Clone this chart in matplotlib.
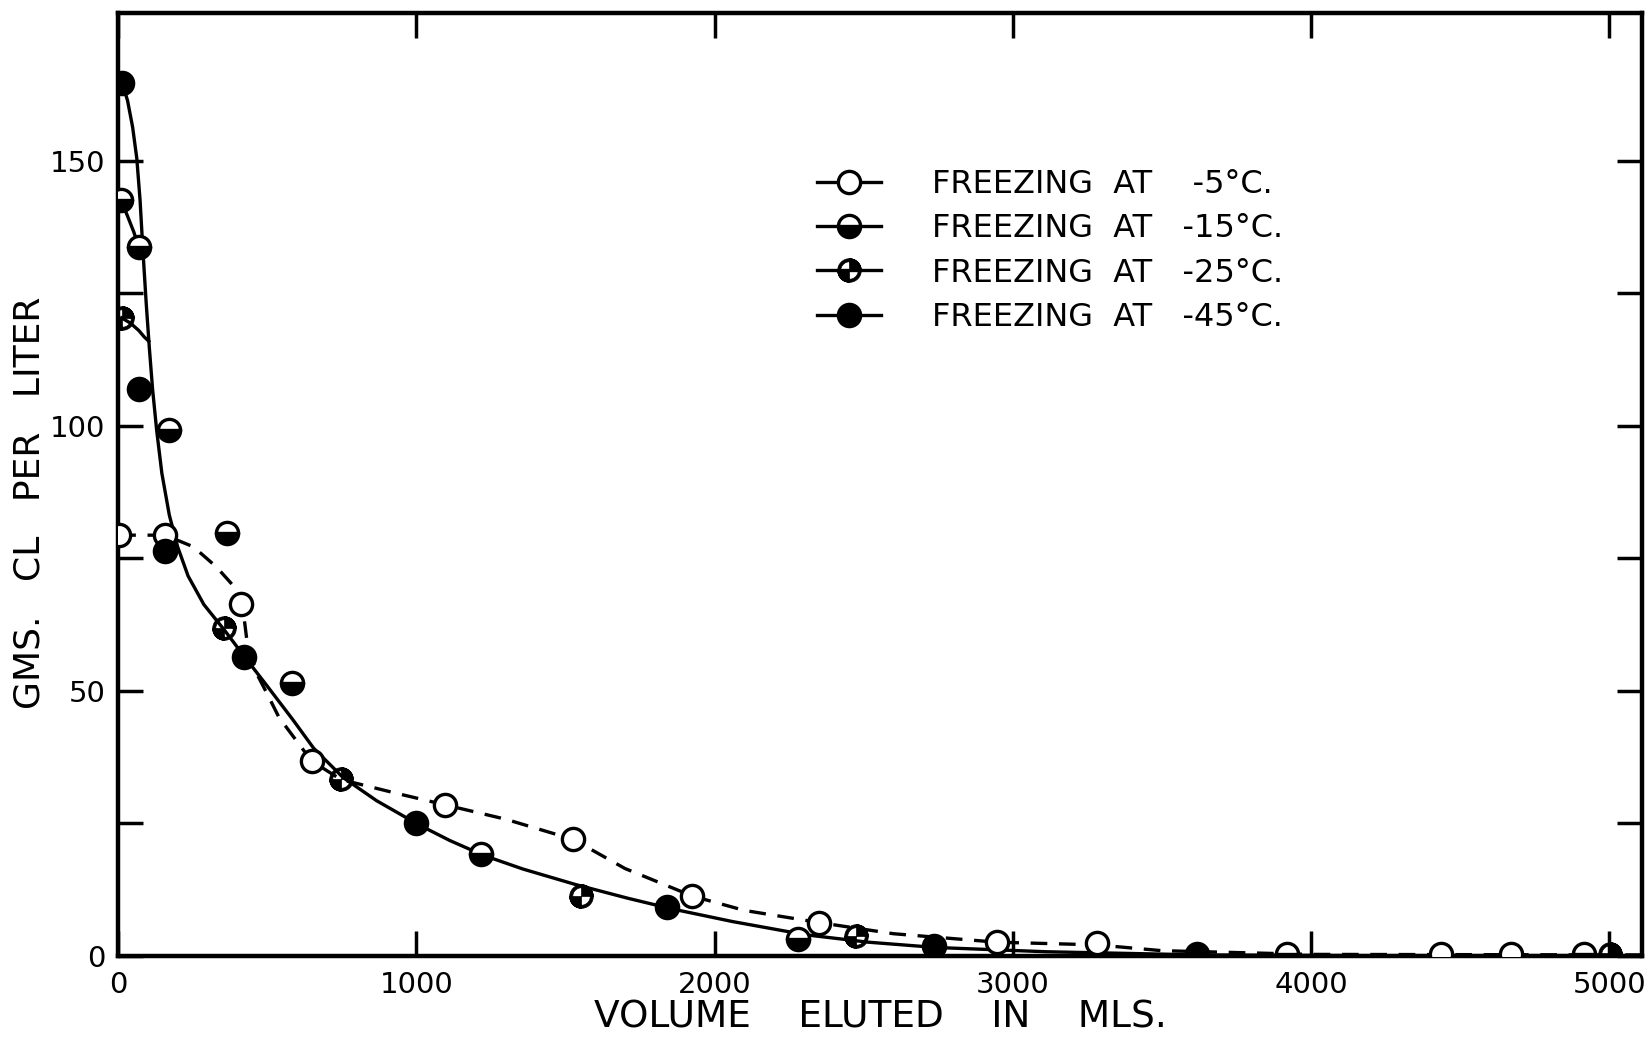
import numpy as np
import matplotlib
matplotlib.use("Agg")
import matplotlib.pyplot as plt
from matplotlib.path import Path
from matplotlib.lines import Line2D

x_5 = [4, 158, 414, 649, 1098, 1526, 1926, 2351, 2947, 3281, 4435, 4670]
y_5 = [79.4, 79.4, 66.5, 36.8, 28.5, 22.0, 11.3, 6.3, 2.6, 2.4, 0.3, 0.3]

x_15 = [10, 70, 172, 365, 582, 1218, 2281, 3920, 4916]
y_15 = [142.6, 133.7, 99.2, 79.8, 51.5, 19.2, 3.2, 0.3, 0.3]

x_25 = [12, 354, 747, 1551, 2474, 5004]
y_25 = [120.4, 61.8, 33.3, 11.3, 3.8, 0.4]

x_45 = [14, 72, 158, 421, 1000, 1842, 2737, 3617]
y_45 = [164.7, 106.9, 76.5, 56.4, 25.1, 9.3, 1.8, 0.4]

# hand drawn curves (traced along the lines of the original)
solid_x = [14, 32, 49, 63, 74, 84, 95, 105, 116, 130, 147, 172, 200, 235, 288, 358, 425,
           498, 586, 656, 754, 867, 1007, 1112, 1225, 1358, 1533, 1709, 1856, 2060, 2305,
           2516, 2744, 3112, 3632, 4165, 5110]
solid_y = [164.7, 161.4, 156.4, 150.5, 142.6, 132.7, 122.8, 114.8, 106.9, 99.0, 91.1, 83.2,
           77.2, 71.7, 66.3, 61.4, 56.4, 51.1, 44.6, 39.2, 33.7, 29.3, 24.8, 21.8, 19.0, 16.4,
           13.5, 10.9, 8.9, 6.5, 4.0, 2.6, 1.6, 0.8, 0.2, 0.08, 0.08]

branch1_x = [10, 32, 53, 70]
branch1_y = [142.6, 139.6, 136.6, 133.7]
branch2_x = [12, 42, 70, 88, 103]
branch2_y = [120.4, 119.4, 118.0, 116.8, 116.0]

dash_x = [4, 158, 253, 330, 386, 414, 425, 432, 463, 498, 540, 649, 747, 933, 1098,
          1300, 1526, 1700, 1926, 2100, 2351, 2600, 2947, 3281, 3500, 4000, 5110]
dash_y = [79.4, 79.4, 77.2, 73.4, 69.9, 66.5, 62.8, 59.6, 53.5, 49.7, 45, 36.8, 33.3, 30.7, 28.5,
          25.8, 22.0, 16.5, 11.3, 8.6, 6.3, 4.2, 2.6, 2.1, 1.0, 0.3, 0.2]

legend_labels = ["FREEZING  AT    -5\u00b0C.", "FREEZING  AT   -15\u00b0C.",
                 "FREEZING  AT   -25\u00b0C.", "FREEZING  AT   -45\u00b0C."]


def quarter_marker():
    # ring + two filled quarters
    t = np.linspace(0, 2 * np.pi, 65)
    outer = np.column_stack([np.cos(t), np.sin(t)])
    inner = outer[::-1] * 0.74
    verts, codes = [], []
    for poly in (outer, inner):
        verts += list(poly)
        codes += [Path.MOVETO] + [Path.LINETO] * (len(poly) - 2) + [Path.CLOSEPOLY]
    for a0 in (0, np.pi):
        a = np.linspace(a0, a0 + np.pi / 2, 17)
        poly = np.vstack([[0, 0], np.column_stack([np.cos(a), np.sin(a)]), [0, 0]])
        verts += list(poly)
        codes += [Path.MOVETO] + [Path.LINETO] * (len(poly) - 2) + [Path.CLOSEPOLY]
    return Path(np.array(verts), codes)


qmark = quarter_marker()

plt.rcParams['font.family'] = ['DejaVu Sans']

fig = plt.figure(figsize=(16.48, 10.39), dpi=100)
ax = fig.add_axes([0.0716, 0.0799, 0.9248, 0.908])

lw = 2.4
ax.plot(solid_x, solid_y, color='black', lw=lw, zorder=2)
ax.plot(branch1_x, branch1_y, color='black', lw=lw, zorder=2)
ax.plot(branch2_x, branch2_y, color='black', lw=lw, zorder=2)
ax.plot(dash_x, dash_y, color='black', lw=lw, ls=(0, (5, 3.5)), zorder=2)

ms = 16
mew = 2.4
st5 = dict(marker='o', ms=ms, mfc='white', mec='black', mew=mew)
st15 = dict(marker='o', ms=ms, mfc='black', mfcalt='white', fillstyle='bottom', mec='black', mew=mew)
st25 = dict(marker=qmark, ms=ms + 1, mfc='black', mec='black', mew=0.5)
st45 = dict(marker='o', ms=ms, mfc='black', mec='black', mew=mew)

ax.plot(x_5, y_5, ls='none', zorder=3, **st5)
ax.plot(x_15, y_15, ls='none', zorder=3, **st15)
ax.plot(x_25, y_25, ls='none', zorder=3, **st25)
ax.plot(x_45, y_45, ls='none', zorder=3, **st45)

ax.set_xlim(0, 5110)
ax.set_ylim(0, 178)
ax.set_xticks([0, 1000, 2000, 3000, 4000, 5000])
ax.set_yticks([0, 50, 100, 150])
ax.set_yticks([25, 75, 125], minor=True)
ax.tick_params(which='both', direction='in', top=True, right=True, length=18, width=2.5,
               labelsize=21)
ax.tick_params(axis='x', pad=11)
ax.tick_params(axis='y', pad=9)
for s in ax.spines.values():
    s.set_linewidth(3.2)

ax.set_xlabel("VOLUME    ELUTED    IN    MLS.", fontsize=27, labelpad=0)
ax.set_ylabel("GMS.   CL   PER   LITER", fontsize=26)
ax.yaxis.set_label_coords(-0.047, 0.48)

handles = [Line2D([], [], color='black', lw=lw, **st5),
           Line2D([], [], color='black', lw=lw, **st15),
           Line2D([], [], color='black', lw=lw, **st25),
           Line2D([], [], color='black', lw=lw, **st45)]
ax.legend(handles, legend_labels, loc='upper left', bbox_to_anchor=(0.44, 0.865),
          frameon=False, fontsize=23, handlelength=2.0, handletextpad=1.6,
          labelspacing=0.42)

fig.savefig("out.png", dpi=100)
